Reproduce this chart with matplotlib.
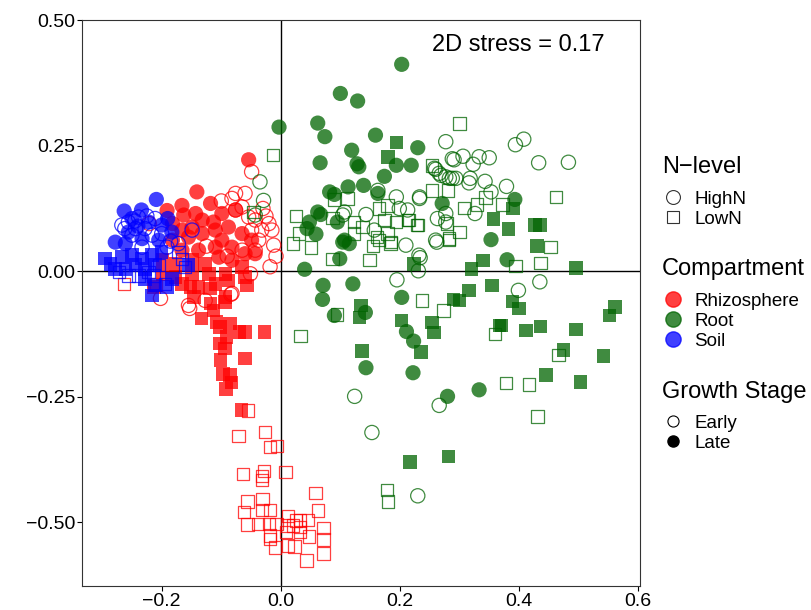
import matplotlib
matplotlib.use("Agg")
import matplotlib.pyplot as plt
from matplotlib.lines import Line2D
from matplotlib.ticker import FuncFormatter

plt.rcParams['font.family'] = ['Liberation Sans', 'DejaVu Sans']

# NMDS scores, one pair of lists per group
# Root
root_hl_x = [0.203, 0.100, 0.129, -0.003, 0.062, 0.074, 0.159, 0.230, 0.119, 0.066, 0.128, 0.131, 0.194, 0.219,
             0.174, 0.139, 0.113, 0.082, 0.090, 0.163, 0.062, 0.067, 0.048, 0.044, 0.059, 0.095, 0.107, 0.115,
             0.104, 0.099, 0.271, 0.393, 0.353, 0.380, 0.040, 0.071, 0.121, 0.070, 0.203, 0.090, 0.142, 0.211,
             0.223, 0.143, 0.222, 0.333, 0.280]
root_hl_y = [0.412, 0.354, 0.339, 0.287, 0.295, 0.268, 0.271, 0.246, 0.241, 0.216, 0.214, 0.208, 0.211, 0.211,
             0.189, 0.171, 0.168, 0.158, 0.153, 0.155, 0.118, 0.113, 0.098, 0.085, 0.074, 0.098, 0.062, 0.055,
             0.058, 0.025, 0.135, 0.143, 0.063, 0.023, 0.004, -0.028, -0.025, -0.056, -0.052, -0.088, -0.082, -0.120,
             -0.139, -0.192, -0.202, -0.236, -0.249]
root_ll_x = [0.194, 0.180, 0.357, 0.382, 0.390, 0.427, 0.435, 0.430, 0.340, 0.320, 0.496, 0.224, 0.355, 0.316,
             0.290, 0.300, 0.389, 0.400, 0.561, 0.552, 0.367, 0.371, 0.412, 0.436, 0.496, 0.475, 0.542, 0.445,
             0.503, 0.135, 0.132, 0.203, 0.254, 0.257, 0.235, 0.136, 0.217, 0.282]
root_ll_y = [0.256, 0.228, 0.104, 0.084, 0.125, 0.092, 0.092, 0.050, 0.021, 0.005, 0.007, 0.014, -0.028, -0.038,
             -0.056, -0.058, -0.060, -0.074, -0.071, -0.088, -0.108, -0.108, -0.118, -0.110, -0.116, -0.157, -0.169, -0.207,
             -0.220, -0.068, -0.092, -0.098, -0.102, -0.122, -0.161, -0.159, -0.380, -0.369]
root_he_x = [0.277, 0.288, 0.258, 0.266, 0.277, 0.288, 0.163, 0.194, 0.233, 0.394, 0.408, 0.433, 0.483, 0.291,
             0.306, 0.323, 0.333, 0.350, 0.260, 0.269, 0.283, 0.294, 0.318, 0.316, 0.343, 0.353, 0.379, 0.233,
             0.213, 0.263, 0.277, 0.277, 0.326, 0.210, 0.262, 0.435, 0.399, 0.266, 0.234, 0.231, 0.195, 0.124,
             0.153, 0.230, 0.107, 0.143, 0.104, 0.157, 0.199, 0.232, 0.260, -0.035, -0.029, -0.043]
root_he_y = [0.258, 0.224, 0.205, 0.195, 0.188, 0.185, 0.161, 0.148, 0.148, 0.252, 0.263, 0.216, 0.217, 0.222,
             0.229, 0.213, 0.228, 0.226, 0.203, 0.191, 0.185, 0.185, 0.185, 0.176, 0.179, 0.158, 0.169, 0.145,
             0.122, 0.105, 0.115, 0.098, 0.115, 0.052, 0.058, -0.021, -0.038, -0.267, 0.027, 0.001, -0.017, -0.249,
             -0.321, -0.447, 0.118, 0.113, 0.112, 0.082, 0.125, 0.032, 0.062, 0.178, 0.141, 0.112]
root_le_x = [0.300, 0.254, 0.254, 0.281, -0.013, 0.308, 0.329, 0.344, 0.372, 0.462, 0.215, 0.230, 0.279, 0.300,
             0.282, 0.453, 0.436, 0.394, 0.360, 0.273, 0.466, 0.378, 0.417, 0.020, 0.051, 0.155, 0.184, 0.165,
             0.282, 0.087, 0.149, 0.237, 0.094, 0.033, 0.178, 0.180, 0.431, 0.089, 0.112, 0.179, 0.165, 0.026,
             0.087, 0.123, 0.137, 0.174, 0.193, 0.214, 0.229, 0.031, 0.123, 0.162, 0.179, 0.185, -0.046]
root_le_y = [0.294, 0.211, 0.161, 0.161, 0.231, 0.126, 0.133, 0.147, 0.133, 0.148, 0.102, 0.092, 0.095, 0.078,
             0.065, 0.048, 0.017, 0.010, -0.125, -0.078, -0.167, -0.223, -0.225, 0.055, 0.047, 0.050, 0.055, 0.062,
             0.062, 0.024, 0.023, -0.058, -0.086, -0.129, -0.436, -0.458, -0.289, 0.143, 0.145, 0.131, 0.125, 0.110,
             0.106, 0.098, 0.088, 0.102, 0.098, 0.102, 0.092, 0.075, 0.075, 0.068, 0.075, 0.058, 0.118]

# Soil
soil_hl_x = [-0.209, -0.234, -0.263, -0.278, -0.261, -0.250, -0.222, -0.200, -0.183, -0.205, -0.233, -0.256, -0.190, -0.240]
soil_hl_y = [0.143, 0.122, 0.120, 0.058, 0.055, 0.105, 0.098, 0.092, 0.078, 0.062, 0.065, 0.078, 0.105, 0.090]
soil_ll_x = [-0.295, -0.286, -0.267, -0.250, -0.233, -0.216, -0.200, -0.211, -0.228, -0.244, -0.261, -0.278,
             -0.228, -0.211, -0.191, -0.216, -0.183, -0.155]
soil_ll_y = [0.025, 0.015, 0.028, 0.032, 0.025, 0.032, 0.038, 0.012, 0.005, 0.012, 0.005, 0.005,
             -0.015, -0.028, -0.031, -0.048, -0.015, 0.012]
soil_he_x = [-0.267, -0.256, -0.244, -0.228, -0.216, -0.250, -0.233, -0.191, -0.172, -0.239, -0.211, -0.149,
             -0.262, -0.245, -0.225, -0.200, -0.185]
soil_he_y = [0.092, 0.098, 0.085, 0.085, 0.072, 0.072, 0.048, 0.048, 0.055, 0.108, 0.105, 0.082,
             0.085, 0.100, 0.110, 0.075, 0.060]
soil_le_x = [-0.272, -0.256, -0.239, -0.222, -0.205, -0.172, -0.166, -0.161, -0.194, -0.214]
soil_le_y = [-0.001, -0.008, -0.008, -0.001, 0.012, 0.038, 0.025, 0.009, -0.025, -0.008]

# Rhizosphere
rhizo_hl_x = [-0.054, -0.141, -0.191, -0.166, -0.118, -0.099, -0.076, -0.163, -0.143, -0.132, -0.113, -0.182,
              -0.166, -0.149, -0.182, -0.155, -0.132, -0.110, -0.088, -0.065, -0.049, -0.099, -0.082, -0.110,
              -0.138, -0.166, -0.060, -0.043, -0.104, -0.082]
rhizo_hl_y = [0.222, 0.158, 0.121, 0.131, 0.135, 0.115, 0.122, 0.112, 0.115, 0.102, 0.098, 0.095,
              0.082, 0.088, 0.062, 0.068, 0.075, 0.082, 0.088, 0.075, 0.062, 0.062, 0.048, 0.048,
              0.042, 0.042, 0.035, 0.035, 0.028, 0.022]
rhizo_ll_x = [-0.199, -0.177, -0.149, -0.127, -0.065, -0.093, -0.121, -0.149, -0.177, -0.199, -0.166, -0.138,
              -0.110, -0.088, -0.060, -0.057, -0.093, -0.118, -0.146, -0.213, -0.152, -0.119, -0.113, -0.133,
              -0.108, -0.094, -0.085, -0.069, -0.060, -0.027, -0.102, -0.091, -0.102, -0.094, -0.060, -0.101,
              -0.097, -0.085, -0.083, -0.092, -0.066]
rhizo_ll_y = [0.022, 0.015, 0.022, 0.015, 0.009, -0.005, -0.005, -0.005, -0.011, -0.005, -0.025, -0.031,
              -0.025, -0.018, -0.011, -0.028, -0.051, -0.064, -0.051, -0.031, -0.031, -0.034, -0.078, -0.094,
              -0.101, -0.061, -0.104, -0.121, -0.121, -0.121, -0.111, -0.131, -0.144, -0.154, -0.174, -0.177,
              -0.204, -0.207, -0.221, -0.234, -0.276]
rhizo_he_x = [-0.049, -0.076, -0.082, -0.060, -0.076, -0.065, -0.054, -0.043, -0.032, -0.015, -0.049, -0.037,
              -0.012, -0.043, -0.065, -0.018, -0.051, -0.082, -0.155, -0.202, -0.221, -0.153, -0.084, -0.127,
              -0.030, -0.025, -0.020, -0.008, -0.100, -0.125, -0.090]
rhizo_he_y = [0.198, 0.155, 0.145, 0.155, 0.122, 0.128, 0.108, 0.102, 0.082, 0.082, 0.082, 0.062,
              0.052, 0.042, 0.042, 0.009, -0.005, -0.044, -0.068, -0.054, 0.095, -0.074, -0.046, -0.058,
              0.125, 0.110, 0.095, 0.030, 0.140, 0.050, 0.030]
rhizo_le_x = [-0.263, -0.210, -0.055, -0.071, -0.027, -0.018, -0.006, -0.063, -0.028, -0.032, -0.032, 0.008,
              0.058, -0.056, -0.031, -0.062, -0.032, -0.018, 0.062, 0.012, 0.026, 0.032, 0.046, -0.056,
              -0.038, -0.020, -0.007, 0.011, 0.020, 0.032, 0.072, -0.018, 0.009, 0.032, 0.047, 0.072,
              -0.018, -0.010, 0.012, 0.023, 0.072, 0.043]
rhizo_le_y = [-0.025, -0.026, -0.277, -0.328, -0.320, -0.350, -0.348, -0.404, -0.398, -0.408, -0.416, -0.400,
              -0.442, -0.458, -0.453, -0.479, -0.475, -0.475, -0.476, -0.487, -0.496, -0.496, -0.495, -0.504,
              -0.503, -0.503, -0.503, -0.506, -0.506, -0.509, -0.511, -0.526, -0.519, -0.519, -0.528, -0.534,
              -0.533, -0.550, -0.546, -0.548, -0.562, -0.576]

stress = 0.17
colors = {'Rhizosphere': 'red', 'Root': 'darkgreen', 'Soil': 'blue'}

fig = plt.figure(figsize=(8.11, 6.10), dpi=100)
ax = fig.add_axes([0.101, 0.039, 0.688, 0.928])

groups = [
    ('Rhizosphere', rhizo_hl_x, rhizo_hl_y, rhizo_ll_x, rhizo_ll_y, rhizo_he_x, rhizo_he_y, rhizo_le_x, rhizo_le_y),
    ('Root', root_hl_x, root_hl_y, root_ll_x, root_ll_y, root_he_x, root_he_y, root_le_x, root_le_y),
    ('Soil', soil_hl_x, soil_hl_y, soil_ll_x, soil_ll_y, soil_he_x, soil_he_y, soil_le_x, soil_le_y),
]
for name, hlx, hly, llx, lly, hex_, hey, lex, ley in groups:
    c = colors[name]
    ax.scatter(hex_, hey, s=105, marker='o', facecolors='none', edgecolors=c, linewidths=0.9, alpha=0.75)
    ax.scatter(lex, ley, s=80, marker='s', facecolors='none', edgecolors=c, linewidths=0.9, alpha=0.75)
    ax.scatter(hlx, hly, s=120, marker='o', color=c, edgecolors='none', alpha=0.75)
    ax.scatter(llx, lly, s=95, marker='s', color=c, edgecolors='none', alpha=0.75)

ax.axhline(0, color='black', lw=1.0, zorder=0)
ax.axvline(0, color='black', lw=1.0, zorder=0)

ax.set_xlim(-0.334, 0.603)
ax.set_ylim(-0.627, 0.50)
ax.set_xticks([-0.2, 0.0, 0.2, 0.4, 0.6])
ax.set_yticks([-0.5, -0.25, 0.0, 0.25, 0.5])
ax.xaxis.set_major_formatter(FuncFormatter(lambda v, p: f"{v:.1f}".replace('-', '\u2212')))
ax.yaxis.set_major_formatter(FuncFormatter(lambda v, p: f"{v:.2f}".replace('-', '\u2212')))
ax.tick_params(labelsize=14, length=3.5, width=0.8, colors='black', pad=1.5)
for sp in ax.spines.values():
    sp.set_linewidth(0.8)
    sp.set_color('#333333')

ax.text(0.783, 0.956, f"2D stress = {stress}", transform=ax.transAxes,
        ha='center', va='center', fontsize=17)

# legends: titles as separate texts, entries as untitled legends
title_x = 0.816
fig.text(title_x, 1 - 173 / 610, 'N\u2212level', fontsize=17, va='baseline', ha='left')
fig.text(title_x, 1 - 275 / 610, 'Compartment', fontsize=17, va='baseline', ha='left')
fig.text(title_x, 1 - 398 / 610, 'Growth Stage', fontsize=17, va='baseline', ha='left')

nh = [Line2D([], [], marker='o', ls='', mfc='none', mec='#333333', ms=10, mew=0.8),
      Line2D([], [], marker='s', ls='', mfc='none', mec='#333333', ms=9, mew=0.8)]
ch = [Line2D([], [], marker='o', ls='', color=colors[k], alpha=0.75, ms=11) for k in colors]
gh = [Line2D([], [], marker='o', ls='', mfc='none', mec='black', ms=8, mew=0.8),
      Line2D([], [], marker='o', ls='', color='black', ms=8)]

common = dict(loc='center left', frameon=False, fontsize=13.5, handletextpad=0.55,
              labelspacing=0.15, borderaxespad=0, borderpad=0, handlelength=1.2)
fig.legend(nh, ['HighN', 'LowN'], bbox_to_anchor=(0.816, 1 - 209 / 610), **common)
fig.legend(ch, list(colors), bbox_to_anchor=(0.816, 1 - 321 / 610), **common)
fig.legend(gh, ['Early', 'Late'], bbox_to_anchor=(0.816, 1 - 433 / 610), **common)

plt.savefig("out.png", dpi=100)
